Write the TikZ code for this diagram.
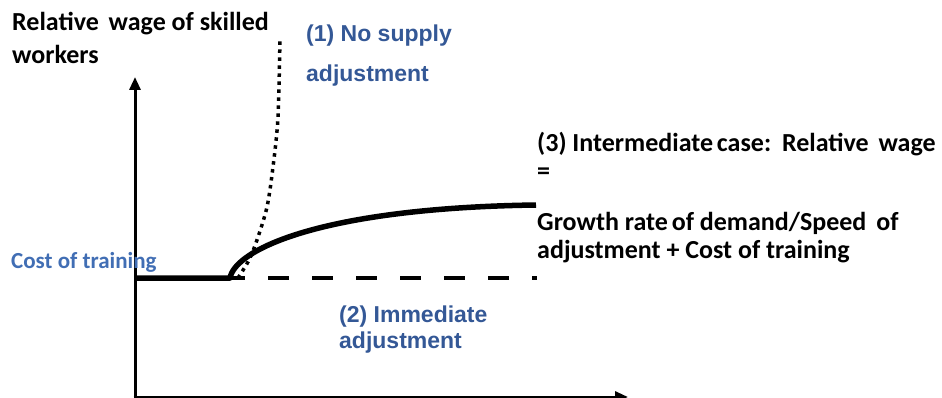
\documentclass[tikz,border=0pt]{standalone}
\usepackage{fontspec}
\setmainfont{Carlito}
\newfontfamily\arialf{Liberation Sans}
\usetikzlibrary{arrows.meta}
\definecolor{labblue}{RGB}{52,88,150}
\definecolor{costblue}{RGB}{65,110,180}
\begin{document}
\begin{tikzpicture}[x=1pt,y=-1pt,
  blk/.style={font=\fontsize{26}{30}\selectfont\bfseries, text=black, inner sep=0pt, anchor=base west},
  bl/.style={font=\arialf\fontsize{23}{28}\selectfont\bfseries, text=labblue, inner sep=0pt, anchor=base west},
  cost/.style={font=\fontsize{23}{28}\selectfont\bfseries, text=costblue, inner sep=0pt, anchor=base west},
  axis/.style={line width=3pt, -{Triangle[width=11pt,length=13pt]}},
  thick curve/.style={line width=5.5pt, line join=round},
  dashline/.style={line width=3.5pt, dash pattern=on 21pt off 23pt},
  dotline/.style={line width=3.5pt, dash pattern=on 3.5pt off 4.5pt}]
\useasboundingbox (0,0) rectangle (942,398);
% axes
\coordinate (O) at (135,397);
\coordinate (ytop) at (135,77);
\coordinate (xend) at (628,397);
\draw[axis] ([yshift=-1.5pt]O) -- (ytop);
\draw[axis] ([xshift=-1.5pt]O) -- (xend);
% curves
\coordinate (c0) at (135,278);
\coordinate (c1) at (230,278);
\coordinate (c2) at (536,205);
\coordinate (d0) at (224,278);
\coordinate (d1) at (537,278);
\draw[dashline] (d0) -- (d1);
\draw[dotline] plot[smooth] coordinates {(238,278) (249,260) (257,240) (267,207) (273,167) (278,117) (280,37)};
\draw[thick curve] (c0) -- (c1) .. controls (235,250) and (320,208) .. (c2);
% texts
\node[blk] (ya1) at (12,31) {Relative\hspace{4pt} wage of skilled};
\node[blk] (ya2) at (12,64) {workers};
\node[bl] (n1a) at (306,42) {(1) No supply};
\node[bl] (n1b) at (306,82) {adjustment};
\node[bl] (n2a) at (339,322) {(2) Immediate};
\node[bl] (n2b) at (339,348) {adjustment};
\node[cost] (ct) at (11,268) {Cost of training};
\node[blk] (n3a) at (537,152) {(3) Intermediate\hspace{-2pt} case:\hspace{3pt} Relative\hspace{4pt} wage};
\node[blk] (n3b) at (537,180) {=};
\node[blk] (n3c) at (537,230) {Growth rate\hspace{-2pt} of demand/Speed\hspace{4pt} of};
\node[blk] (n3d) at (537,258) {adjustment + Cost of training};
\end{tikzpicture}
\end{document}
